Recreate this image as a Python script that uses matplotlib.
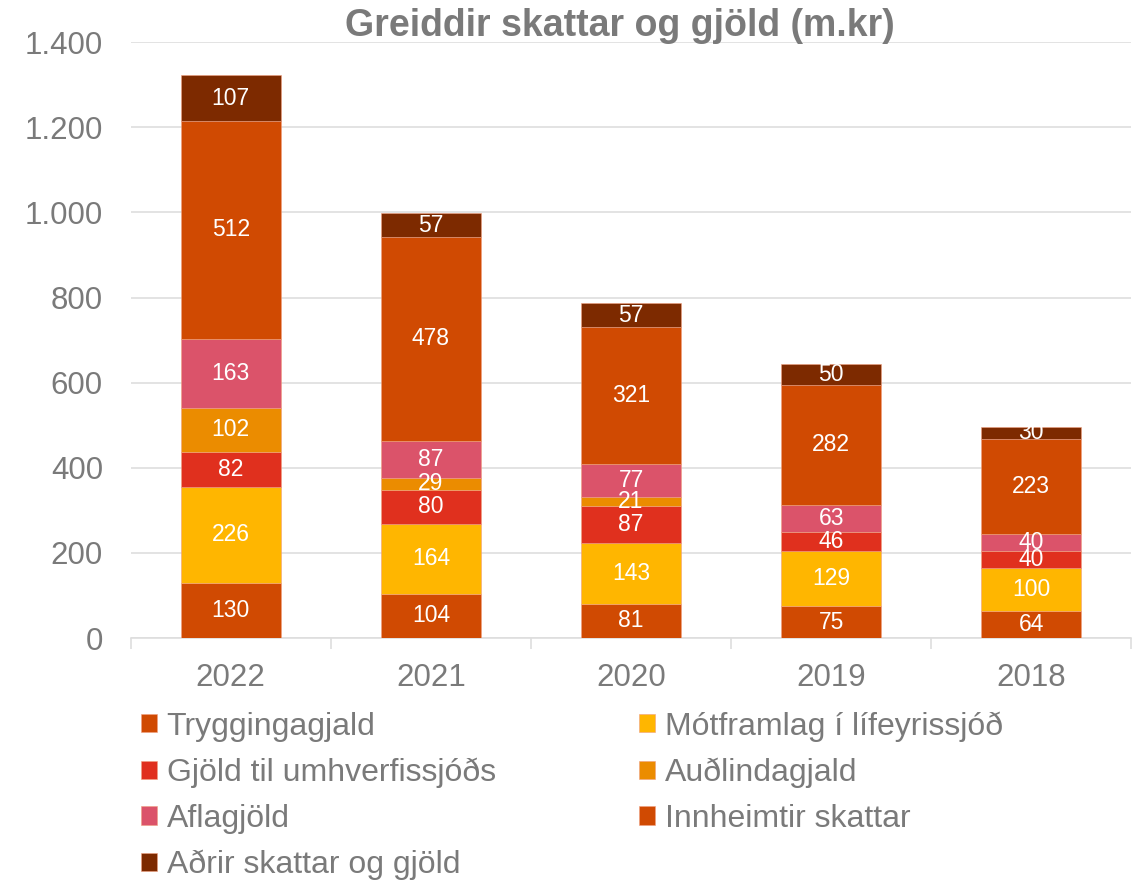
import matplotlib.pyplot as plt
import numpy as np

plt.rcParams['font.family'] = ['Liberation Sans', 'DejaVu Sans']

years = ['2022', '2021', '2020', '2019', '2018']
tryggingagjald = [130, 104, 81, 75, 64]
motframlag = [226, 164, 143, 129, 100]
umhverfissjodur = [82, 80, 87, 46, 40]
audlindagjald = [102, 29, 21, 0, 0]
aflagjold = [163, 87, 77, 63, 40]
innheimtir = [512, 478, 321, 282, 223]
adrir = [107, 57, 57, 50, 30]

series = [
    ('Tryggingagjald', tryggingagjald, '#D04A02'),
    ('Mótframlag í lífeyrissjóð', motframlag, '#FFB600'),
    ('Gjöld til umhverfissjóðs', umhverfissjodur, '#E0301E'),
    ('Auðlindagjald', audlindagjald, '#EB8C00'),
    ('Aflagjöld', aflagjold, '#DB536A'),
    ('Innheimtir skattar', innheimtir, '#D04A02'),
    ('Aðrir skattar og gjöld', adrir, '#7D2A00'),
]

grey = '#7A7A7A'

fig = plt.figure(figsize=(11.37, 8.8), dpi=100)
ax = fig.add_axes([0.115, 0.275, 0.88, 0.677])

x = np.arange(len(years))
bottom = np.zeros(len(years))
handles = {}
for name, vals, color in series:
    vals = np.array(vals, dtype=float)
    bars = ax.bar(x, vals, 0.5, bottom=bottom, color=color, label=name,
                  edgecolor='#f0a080', linewidth=0.4, zorder=3)
    handles[name] = bars
    for xi, v, b in zip(x, vals, bottom):
        if v > 0:
            ax.text(xi, b + v / 2, str(int(v)), ha='center', va='center',
                    color='white', fontsize=16.5, zorder=4)
    bottom += vals

ax.set_ylim(0, 1400)
ax.set_xlim(-0.5, len(years) - 0.5)
ax.set_yticks(np.arange(0, 1401, 200))
ax.set_yticklabels(['0', '200', '400', '600', '800', '1.000', '1.200', '1.400'])
ax.set_xticks(x)
ax.set_xticklabels(years)
ax.set_xticks(np.arange(-0.5, len(years), 1), minor=True)
ax.tick_params(axis='y', length=0, labelsize=22.5, colors=grey, pad=20)
ax.tick_params(axis='x', which='major', length=0, labelsize=22.5, colors=grey, pad=18)
ax.tick_params(axis='x', which='minor', length=8, color='#DEDEDE', width=1.2)
ax.grid(axis='y', color='#DEDEDE', linewidth=1.2, zorder=0)
for s in ['top', 'right', 'left']:
    ax.spines[s].set_visible(False)
ax.spines['bottom'].set_color('#DEDEDE')
ax.spines['bottom'].set_linewidth(1.2)

fig.text(0.545, 0.970, 'Greiddir skattar og gjöld (m.kr)', ha='center', va='center',
         fontsize=27, fontweight='bold', color=grey)

order = ['Tryggingagjald', 'Gjöld til umhverfissjóðs', 'Aflagjöld', 'Aðrir skattar og gjöld',
         'Mótframlag í lífeyrissjóð', 'Auðlindagjald', 'Innheimtir skattar']
leg = fig.legend([handles[n] for n in order], order, ncol=2, loc='upper left',
                 bbox_to_anchor=(0.124, 0.192), frameon=False, fontsize=23,
                 handlelength=0.5, handleheight=0.5, handletextpad=0.3,
                 columnspacing=4.5, labelspacing=0.5, borderaxespad=0, borderpad=0)
for t in leg.get_texts():
    t.set_color(grey)

plt.savefig('out.png', dpi=100)
